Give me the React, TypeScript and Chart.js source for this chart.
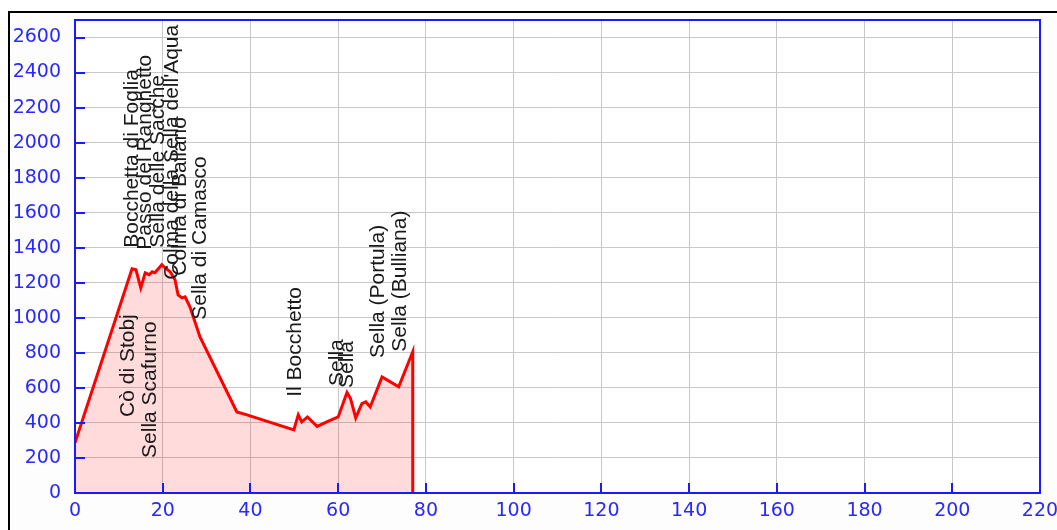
import React, { useEffect, useRef } from "react";
import { Chart, registerables } from "chart.js";

Chart.register(...registerables);

// Elevation profile (km, m)
const distanceKm = [
  0, 13.0, 13.9, 15.0, 16.0, 16.9, 17.6, 18.2, 19.8, 20.5, 21.7, 22.8, 23.5, 24.4, 25.1, 26.2,
  28.5, 36.9, 39.2, 49.9, 50.9, 51.7, 53.0, 55.2, 57.4, 60.0, 62.0, 62.8, 64.0, 65.4, 66.3,
  67.3, 70.0, 73.8, 77.0, 77.0,
];
const elevationM = [
  286, 1280, 1274, 1171, 1257, 1246, 1263, 1257, 1303, 1286, 1263, 1217, 1131, 1114, 1120, 1063,
  891, 463, 446, 360, 446, 406, 434, 380, 406, 434, 574, 540, 429, 510, 520,
  491, 663, 606, 806, 0,
];

// Pass labels: name, km, elevation where the text starts
const labelNames = [
  "Cò di Stobj",
  "Sella Scafurno",
  "Bocchetta di Foglia",
  "Passo del Ranghetto",
  "Sella delle Sacche",
  "Colma della Sella dell'Aqua",
  "Colma di Ballano",
  "Sella di Camasco",
  "Il Bocchetto",
  "Sella",
  "Sella",
  "Sella (Portula)",
  "Sella (Bulliana)",
];
const labelKm = [12.1, 17.1, 13.0, 16.0, 18.9, 22.2, 23.9, 28.5, 50.2, 59.7, 62.0, 69.1, 74.1];
const labelElev = [434, 200, 1400, 1389, 1400, 1217, 1240, 989, 549, 611, 600, 771, 806];

const xTicks = [0, 20, 40, 60, 80, 100, 120, 140, 160, 180, 200, 220];
const yTicks = [0, 200, 400, 600, 800, 1000, 1200, 1400, 1600, 1800, 2000, 2200, 2400, 2600];
const xMax = 220;
const yMax = 2700;

const AXIS_BLUE = "#1a1aff";
const TICK_TEXT = "#2828ff";

export default function App() {
  const ref = useRef<HTMLCanvasElement | null>(null);

  useEffect(() => {
    if (!ref.current) return;
    const points = distanceKm.map((x, i) => ({ x, y: elevationM[i] }));

    const framePlugin = {
      id: "frame",
      beforeDraw(chart: any) {
        const { ctx, chartArea: a } = chart;
        ctx.save();
        ctx.fillStyle = "#fdfdfd";
        ctx.fillRect(0, 0, chart.width, chart.height);
        ctx.fillStyle = "#ffffff";
        ctx.fillRect(a.left, a.top, a.right - a.left, a.bottom - a.top);
        ctx.restore();
      },
      afterDatasetsDraw(chart: any) {
        const { ctx, chartArea: a, scales } = chart;
        const xs = scales.x;
        const ys = scales.y;
        ctx.save();
        // labels
        ctx.fillStyle = "#1a1a1a";
        ctx.font = '21px "Liberation Sans", Arial, sans-serif';
        ctx.textAlign = "left";
        ctx.textBaseline = "middle";
        labelNames.forEach((t, i) => {
          const px = xs.getPixelForValue(labelKm[i]);
          const py = ys.getPixelForValue(labelElev[i]);
          ctx.save();
          ctx.translate(px, py);
          ctx.rotate(-Math.PI / 2);
          ctx.fillText(t, 0, 0);
          ctx.restore();
        });
        // inward ticks
        ctx.strokeStyle = AXIS_BLUE;
        ctx.lineWidth = 2;
        ctx.beginPath();
        xTicks.forEach((v) => {
          const px = Math.round(xs.getPixelForValue(v));
          ctx.moveTo(px, a.bottom);
          ctx.lineTo(px, a.bottom - 10);
        });
        yTicks.forEach((v) => {
          const py = Math.round(ys.getPixelForValue(v));
          ctx.moveTo(a.left, py);
          ctx.lineTo(a.left + 10, py);
        });
        ctx.stroke();
        // box
        ctx.strokeRect(a.left, a.top, a.right - a.left, a.bottom - a.top);
        ctx.restore();
      },
    };

    const tickFont = { family: '"DejaVu Sans", sans-serif', size: 19 };

    const chart = new Chart(ref.current, {
      type: "line",
      data: {
        datasets: [
          {
            data: points,
            borderColor: "#ff0000",
            borderWidth: 3,
            backgroundColor: "rgba(255,0,0,0.14)",
            fill: "origin",
            pointRadius: 0,
            tension: 0,
          },
        ],
      },
      options: {
        animation: false,
        responsive: false,
        maintainAspectRatio: false,
        layout: { padding: { top: 7, right: 17, left: 0, bottom: 0 } },
        plugins: { legend: { display: false }, tooltip: { enabled: false } },
        scales: {
          x: {
            type: "linear",
            min: 0,
            max: xMax,
            afterBuildTicks(scale: any) {
              scale.ticks = xTicks.map((value) => ({ value }));
            },
            ticks: {
              color: TICK_TEXT,
              font: tickFont,
              padding: 7,
              maxRotation: 0,
              autoSkip: false,
              callback: (v: any) => String(v),
            },
            grid: { color: "#c8c8c8", lineWidth: 1, drawTicks: false, tickLength: 0 },
            border: { display: false },
            afterFit(scale: any) {
              scale.height = 37;
              scale.paddingLeft = 0;
              scale.paddingRight = 0;
            },
          },
          y: {
            type: "linear",
            min: 0,
            max: yMax,
            afterBuildTicks(scale: any) {
              scale.ticks = yTicks.map((value) => ({ value }));
            },
            ticks: {
              color: TICK_TEXT,
              font: tickFont,
              padding: 14,
              autoSkip: false,
              callback: (v: any) => String(v),
            },
            grid: { color: "#c8c8c8", lineWidth: 1, drawTicks: false, tickLength: 0 },
            border: { display: false },
            afterFit(scale: any) {
              scale.width = 65;
              scale.paddingTop = 0;
              scale.paddingBottom = 0;
            },
          },
        },
      },
      plugins: [framePlugin],
    });
    return () => chart.destroy();
  }, []);

  return (
    <div
      style={{
        position: "fixed",
        left: 8,
        top: 11,
        borderTop: "2px solid #000",
        borderLeft: "2px solid #000",
        width: 1047,
        height: 517,
        overflow: "hidden",
      }}
    >
      <canvas ref={ref} width={1047} height={517} style={{ display: "block", width: 1047, height: 517 }} />
    </div>
  );
}
